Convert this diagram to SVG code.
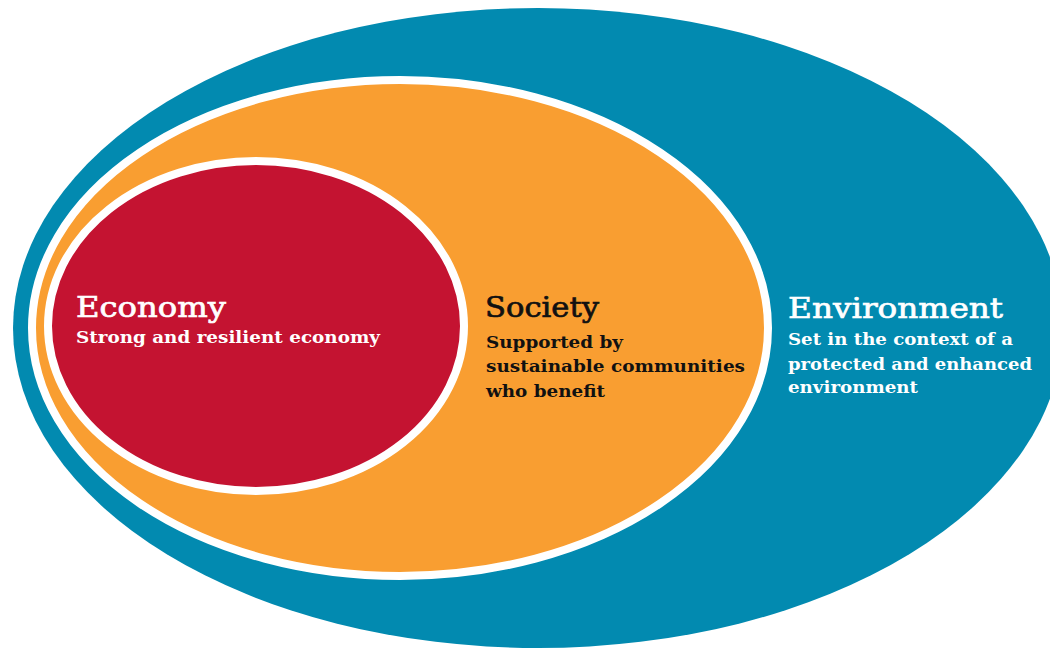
<svg xmlns="http://www.w3.org/2000/svg" width="1050" height="648" viewBox="0 0 1050 648">
  <style>
    .title { font-family: "DejaVu Serif", "Liberation Serif", serif; font-size: 28px; font-weight: normal; stroke-width: 0.7; }
    .sub { font-family: "DejaVu Serif", "Liberation Serif", serif; font-size: 17.5px; font-weight: bold; }
    .light { fill: #ffffff; stroke: #ffffff; }
    .dark { fill: #111111; stroke: #111111; }
    .sub.light, .sub.dark { stroke: none; }
    .ring { stroke: #ffffff; stroke-width: 8; }
  </style>
  <rect x="0" y="0" width="1050" height="648" fill="#ffffff"/>
  <g id="environment">
    <ellipse cx="538" cy="328" rx="525" ry="320" fill="#028AB0"/>
    <text class="title light" x="788" y="318" textLength="215" lengthAdjust="spacingAndGlyphs">Environment</text>
    <text class="sub light" x="788" y="345" textLength="225" lengthAdjust="spacingAndGlyphs">Set in the context of a</text>
    <text class="sub light" x="788" y="370" textLength="244" lengthAdjust="spacingAndGlyphs">protected and enhanced</text>
    <text class="sub light" x="788" y="393" textLength="130" lengthAdjust="spacingAndGlyphs">environment</text>
  </g>
  <g id="society">
    <ellipse class="ring" cx="400" cy="328" rx="368" ry="248" fill="#F99E31"/>
    <text class="title dark" x="485" y="317" textLength="114" lengthAdjust="spacingAndGlyphs">Society</text>
    <text class="sub dark" x="486" y="348" textLength="137" lengthAdjust="spacingAndGlyphs">Supported by</text>
    <text class="sub dark" x="486" y="372" textLength="259" lengthAdjust="spacingAndGlyphs">sustainable communities</text>
    <text class="sub dark" x="486" y="397" textLength="119" lengthAdjust="spacingAndGlyphs">who benefit</text>
  </g>
  <g id="economy">
    <ellipse class="ring" cx="256" cy="326" rx="208" ry="165" fill="#C41331"/>
    <text class="title light" x="76" y="317" textLength="150" lengthAdjust="spacingAndGlyphs">Economy</text>
    <text class="sub light" x="76" y="343" textLength="304" lengthAdjust="spacingAndGlyphs">Strong and resilient economy</text>
  </g>
  <g id="connectors"/>
</svg>
